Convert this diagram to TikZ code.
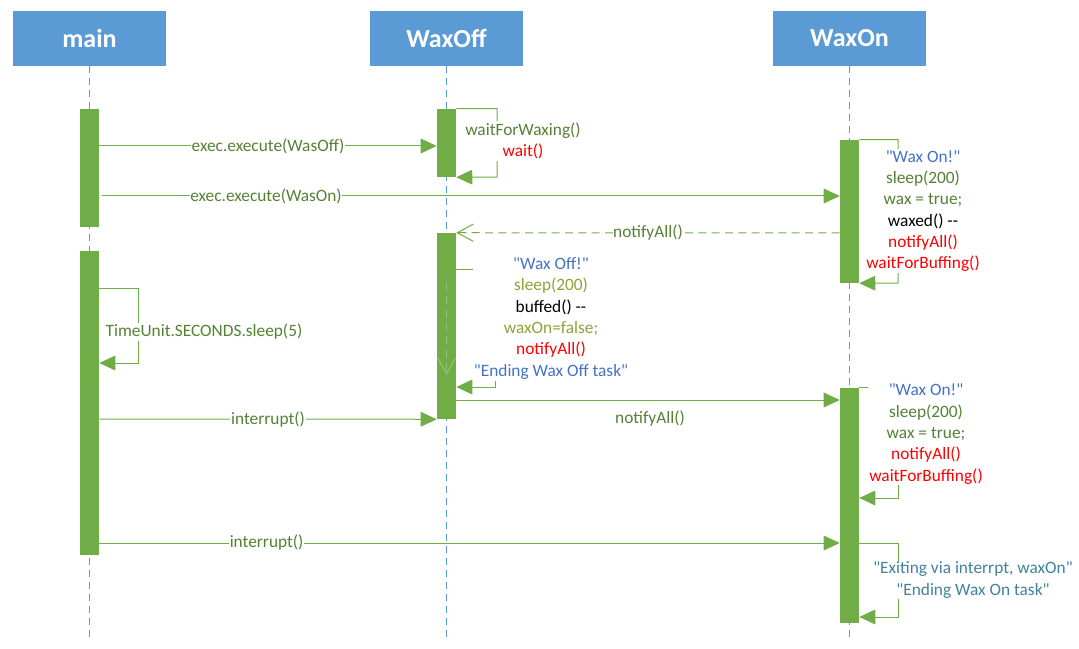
\documentclass[tikz,border=0pt]{standalone}
\usepackage{fontspec}
\setmainfont{Carlito}[Ligatures=TeXOff]
\usetikzlibrary{arrows.meta}
\definecolor{headblue}{RGB}{91,155,213}
\definecolor{bargreen}{RGB}{112,173,71}
\definecolor{msggreen}{RGB}{84,130,53}
\definecolor{quoteblue}{RGB}{68,114,196}
\definecolor{olivetext}{RGB}{141,163,58}
\definecolor{tealtext}{RGB}{65,130,158}
\definecolor{dashgreen}{RGB}{150,196,120}

\begin{document}
\begin{tikzpicture}[x=0.75pt,y=0.75pt,yscale=-1,xscale=1,
  head/.style={fill=headblue, text=white, font=\fontsize{19.5}{22}\selectfont\bfseries, minimum width=114.75pt, minimum height=41.25pt, inner sep=0pt},
  life/.style={headblue, line width=0.75pt, dash pattern=on 5pt off 4pt},
  bar/.style={fill=bargreen, minimum width=14.25pt, minimum height=#1*0.75pt, inner sep=0pt},
  msg/.style={bargreen, line width=0.75pt, -{Triangle[length=12pt,width=11pt]}},
  reply/.style={bargreen, line width=0.75pt, dash pattern=on 6pt off 4pt, -{Straight Barb[length=12pt,width=13pt]}},
  lbl/.style={fill=white, text=msggreen, inner sep=0.5pt, font=\fontsize{13}{16}\selectfont},
  note/.style={fill=white, align=center, inner sep=1pt, font=\fontsize{13}{16}\selectfont}
]
\useasboundingbox (0,0) rectangle (1079,649);

% Heads
\node[head] (main) at (89.5,38.5) {main};
\node[head] (waxoff) at (446.5,38.5) {WaxOff};
\node[head] (waxon) at (849.5,38.5) {WaxOn};

% Lifelines
\draw[life] (main.south) -- ++(0,573);
\draw[life] (waxoff.south) -- ++(0,573);
\draw[life] (waxon.south) -- ++(0,573);

% Activation bars
\node[bar=118] (mainA) at (89.5,168) {};
\node[bar=304] (mainB) at (89.5,403) {};
\node[bar=68] (offA) at (446.5,143) {};
\node[bar=186] (offB) at (446.5,326) {};
\node[bar=143] (onA) at (849.5,211.5) {};
\node[bar=235] (onB) at (849.5,505.5) {};

% Messages
\draw[msg] (mainA.east |- 0,146) -- (offA.west |- 0,146) node[lbl, midway] {exec.execute(WasOff)};
\draw[msg] ([xshift=2.25pt]mainA.east |- 0,196) -- (onA.west |- 0,196) node[lbl, pos=0.222] {exec.execute(WasOn)};
\draw[reply] (onA.west |- 0,233) -- (offB.north east) node[lbl, midway] {notifyAll()};
\draw[msg] (mainB.east |- 0,419) -- (offB.south west) node[lbl, midway] {interrupt()};
\draw[msg] (offB.east |- 0,400) -- (onB.west |- 0,400);
\node[lbl] (notifylbl) at (650,419) {notifyAll()};
\draw[msg] (mainB.east |- 0,543) -- (onB.west |- 0,543) node[lbl, pos=0.226] {interrupt()};

% Self calls
\draw[msg] (offA.north east) -| (497,177) -- (offA.south east);
\node[note] (waxing) at (523,141) {\textcolor{msggreen}{waitForWaxing()}\\\textcolor{red}{wait()}};

\draw[msg] (mainB.east |- 0,289) -| (138,363) -- (mainB.east |- 0,363);
\node[note, text=msggreen] (sleepfive) at (204,332) {TimeUnit.SECONDS.sleep(5)};

\draw[msg] (onA.north east) -| (898,283) -- (onA.south east);
\node[note] (waxonA) at (923,211) {\textcolor{quoteblue}{"Wax On!"}\\\textcolor{msggreen}{sleep(200)}\\\textcolor{msggreen}{wax = true;}\\waxed() --\\\textcolor{red}{notifyAll()}\\\textcolor{red}{waitForBuffing()}};

\draw[msg] (offB.east |- 0,270) -| (495,387) -- (offB.east |- 0,387);
\node[note] (waxoffB) at (551,318.5) {\textcolor{quoteblue}{"Wax Off!"}\\\textcolor{olivetext}{sleep(200)}\\buffed() --\\\textcolor{olivetext}{waxOn=false;}\\\textcolor{red}{notifyAll()}\\\textcolor{quoteblue}{"Ending Wax Off task"}};
\draw[dashgreen, line width=0.75pt, dash pattern=on 6pt off 4pt, -{Straight Barb[length=12pt,width=13pt]}] (offB.center |- 0,283) -- (offB.center |- 0,375);

\draw[msg] (onB.north east) -| (898,498) -- (onB.east |- 0,498);
\node[note] (waxonB) at (926,434) {\textcolor{quoteblue}{"Wax On!"}\\\textcolor{msggreen}{sleep(200)}\\\textcolor{msggreen}{wax = true;}\\\textcolor{red}{notifyAll()}\\\textcolor{red}{waitForBuffing()}};

\draw[msg] (onB.east |- 0,543) -| (898,617) -- (onB.east |- 0,617);
\node[note, text=tealtext] (exiting) at (973,580) {"Exiting via interrpt, waxOn"\\"Ending Wax On task"};

\end{tikzpicture}
\end{document}
